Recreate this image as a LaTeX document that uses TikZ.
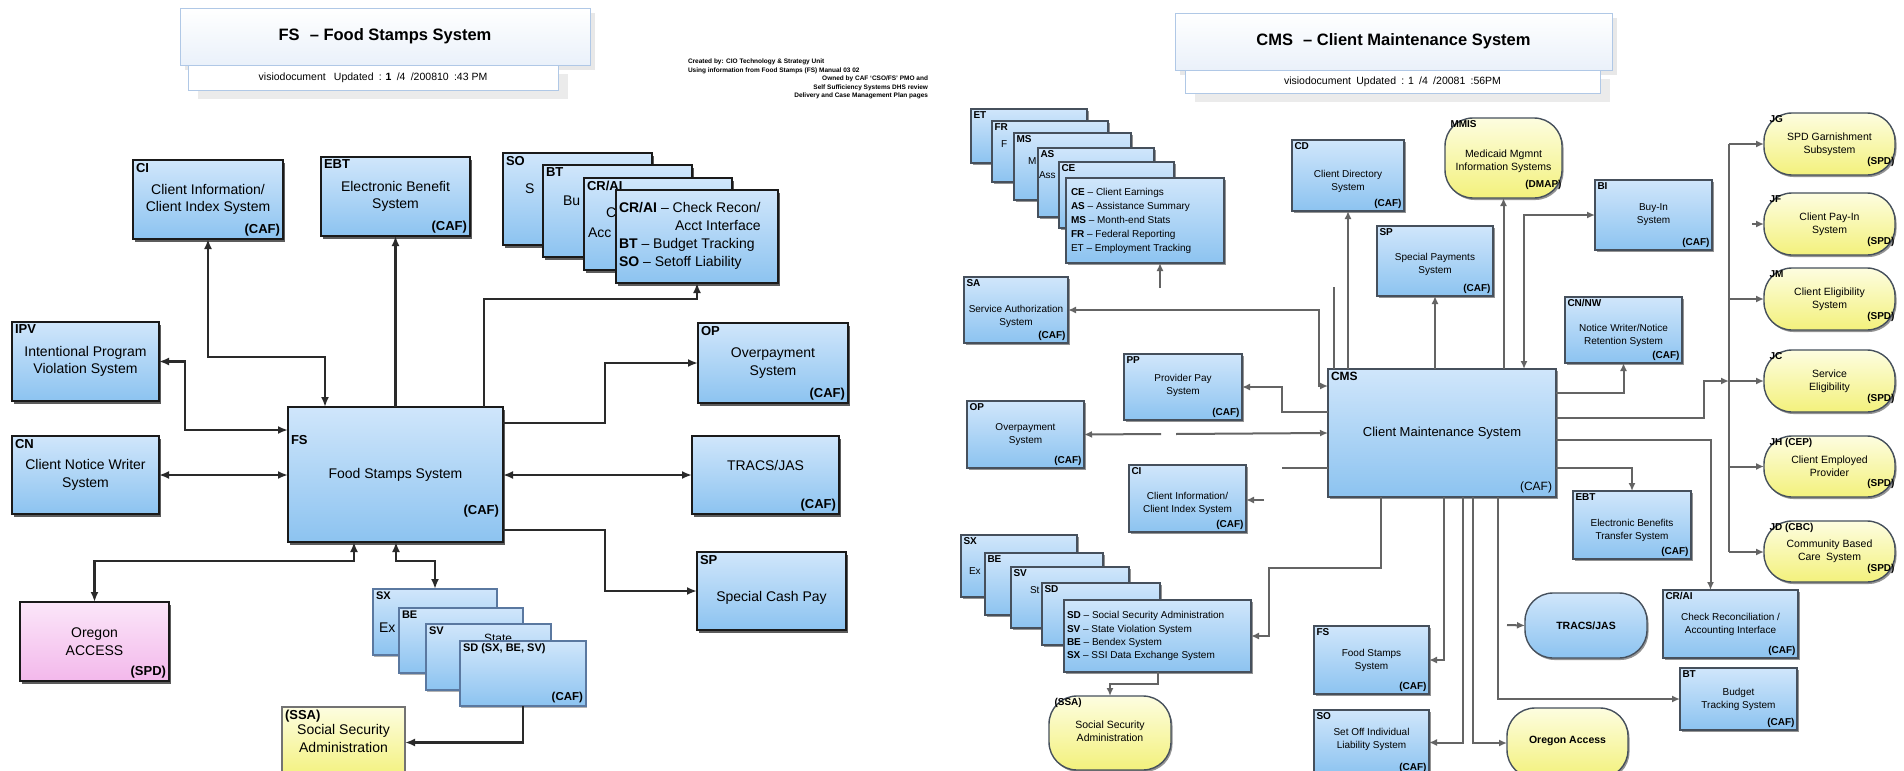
\documentclass[tikz,border=0pt]{standalone}
\usepackage{fontspec}
\setmainfont{Liberation Sans}
\usetikzlibrary{arrows.meta,shadows,calc}

\definecolor{boxtop}{RGB}{208,230,251}
\definecolor{boxbot}{RGB}{140,195,240}
\definecolor{edgedark}{RGB}{26,26,26}
\definecolor{edgegrey}{RGB}{70,80,92}
\definecolor{stackedge}{RGB}{90,120,160}
\definecolor{yeltop}{RGB}{253,253,224}
\definecolor{yelbot}{RGB}{243,241,124}
\definecolor{pinktop}{RGB}{251,230,249}
\definecolor{pinkbot}{RGB}{243,184,235}
\definecolor{wireleft}{RGB}{42,42,42}
\definecolor{wireright}{RGB}{100,100,100}
\definecolor{titleedge}{RGB}{176,200,230}
\definecolor{titlefill}{RGB}{234,241,250}

% a box given by its corners (x1,y1)-(x2,y2), y counted downwards
\newcommand{\boxat}[6]{%
  \node[#1, anchor=north west, minimum width={(#5-#3)*1pt},
        minimum height={(#6-#4)*1pt}] (#2) at (#3,#4) {};}
% code label, centred description and owner tag of a box
\newcommand{\boxtxt}[5][0]{%
  \node[boxlab, anchor=north west] (#2-lab) at (#2.north west) {#3};
  \node[boxbody] (#2-body) at ($(#2.center)+(0,#1)$) {#4};
  \node[boxtag, anchor=south east] (#2-tag) at (#2.south east) {#5};}
% the visible part of the text of a sheet lying under the next one
\newcommand{\pieceat}[4]{%
  \node[boxbody, anchor=west] (#1) at (#2,#3) {#4};}

\begin{document}
\begin{tikzpicture}[x=1pt, y=-1pt,
  every node/.style={inner sep=2pt, outer sep=0pt},
  lbox/.style={draw=edgedark, line width=2pt, top color=boxtop, bottom color=boxbot,
    drop shadow={shadow xshift=1.5pt, shadow yshift=-2.5pt, opacity=.85, fill=black!75}},
  lpink/.style={lbox, top color=pinktop, bottom color=pinkbot},
  lyellow/.style={draw=black!55, line width=1.5pt, top color=yeltop, bottom color=yelbot},
  lsheet/.style={draw=stackedge, line width=1.2pt, top color=boxtop, bottom color=boxbot,
    drop shadow={shadow xshift=1pt, shadow yshift=-1.5pt, opacity=.5, fill=black!60}},
  rbox/.style={draw=edgegrey, line width=1.4pt, top color=boxtop, bottom color=boxbot,
    drop shadow={shadow xshift=1.5pt, shadow yshift=-2pt, opacity=.6, fill=black!70}},
  roval/.style={rbox, rounded corners=28pt, top color=yeltop, bottom color=yelbot},
  rblueoval/.style={rbox, rounded corners=28pt},
  titlebox/.style={draw=titleedge, line width=1pt, top color=white, bottom color=titlefill,
    drop shadow={shadow xshift=5pt, shadow yshift=-5pt, opacity=1, fill=black!9}},
  subbox/.style={draw=titleedge, line width=1pt, fill=white,
    drop shadow={shadow xshift=10pt, shadow yshift=-9pt, opacity=1, fill=black!8}},
  titletxt/.style={font=\fontsize{16.5}{19}\selectfont\bfseries},
  subtxt/.style={font=\fontsize{10.5}{12}\selectfont},
  tinytxt/.style={font=\fontsize{6.5}{8.3}\selectfont\bfseries, inner sep=0pt},
  lc/.style={draw=wireleft, line width=2.2pt},
  rc/.style={draw=wireright, line width=2pt},
  lar/.style={-{Latex[length=10pt,width=8pt]}},
  lboth/.style={{Latex[length=10pt,width=8pt]}-{Latex[length=10pt,width=8pt]}},
  rar/.style={-{Latex[length=8pt,width=7pt]}},
  rboth/.style={{Latex[length=8pt,width=7pt]}-{Latex[length=8pt,width=7pt]}}]

\useasboundingbox (0,0) rectangle (1904,771);
\clip (0,0) rectangle (1904,771);
\fill[white] (0,0) rectangle (1904,771);

%================ Food Stamps system ================
\node[titlebox, anchor=north west, minimum width=410pt, minimum height=57pt] (ltitle) at (180,8) {};
\node[subbox, anchor=north west, minimum width=370pt, minimum height=25pt] (lsub) at (188,65) {};
\node[titletxt] (ltitle-t) at (ltitle.center) {FS\,\, -- Food Stamps System};
\node[subtxt] (lsub-t) at (lsub.center) {visiodocument\enspace\ Updated\enspace : \textbf{1}\enspace/4\enspace/200810\enspace :43 PM};

\node[tinytxt, anchor=north west, align=left] (credit1) at (688,59)
  {Created by: CIO Technology \& Strategy Unit\\Using information from Food Stamps (FS) Manual 03 02};
\node[tinytxt, anchor=north east, align=right] (credit2) at (928,76)
  {Owned by CAF `CSO/FS' PMO and\\Self Sufficiency Systems DHS review\\Delivery and Case Management Plan pages};

\begin{scope}[
  boxlab/.style={font=\fontsize{13}{15}\selectfont\bfseries, inner sep=3pt},
  boxbody/.style={font=\fontsize{14}{17.5}\selectfont, align=center},
  boxtag/.style={font=\fontsize{13}{15}\selectfont\bfseries, inner sep=3pt}]

\boxat{lbox}{ci}{133}{160}{283}{239}
\boxtxt{ci}{CI}{Client Information/\\Client Index System}{(CAF)}
\boxat{lbox}{ebt}{321}{157}{470}{236}
\boxtxt{ebt}{EBT}{Electronic Benefit\\System}{(CAF)}

% stacked sheets, back to front
\boxat{lbox}{so}{503}{153}{652}{245}
\node[boxlab, anchor=north west] (so-lab) at (so.north west) {SO};
\pieceat{so-p}{523}{189}{S}
\boxat{lbox}{bt}{543}{165}{692}{257}
\node[boxlab, anchor=north west] (bt-lab) at (bt.north west) {BT};
\pieceat{bt-p}{561}{201}{Bu}
\boxat{lbox}{cra}{584}{178}{732}{270}
\node[boxlab, anchor=north west] (cra-lab) at (cra.north west) {CR/AI};
\pieceat{cra-p1}{604}{213}{C}
\pieceat{cra-p2}{586}{233}{Acc}
\boxat{lbox}{sof}{616}{190}{778}{283}
\node[font=\fontsize{14}{18}\selectfont, anchor=west, inner sep=0pt] (sof-body) at (619,236)
  {\begin{tabular}{@{}l@{}}\textbf{CR/AI} -- Check Recon/\\ \multicolumn{1}{@{}r@{}}{Acct Interface}\\
   \textbf{BT} -- Budget Tracking\\ \textbf{SO} -- Setoff Liability\end{tabular}};

\boxat{lbox}{ipv}{12}{322}{159}{401}
\boxtxt{ipv}{IPV}{Intentional Program\\Violation System}{}
\boxat{lbox}{cn}{12}{436}{159}{514}
\boxtxt{cn}{CN}{Client Notice Writer\\System}{}

\boxat{lbox}{fs}{288}{407}{503}{542}
\node[boxlab, anchor=west] (fs-lab) at (288,440) {FS};
\node[boxbody] (fs-body) at (fs.center) {Food Stamps System};
\node[boxtag, anchor=east] (fs-tag) at (502,511) {(CAF)};

\boxat{lbox}{op}{698}{323}{848}{403}
\boxtxt{op}{OP}{Overpayment\\System}{(CAF)}
\boxat{lbox}{tracs}{692}{436}{839}{514}
\boxtxt[-10]{tracs}{}{TRACS/JAS}{(CAF)}
\boxat{lbox}{sp}{697}{552}{846}{630}
\boxtxt[7]{sp}{SP}{Special Cash Pay}{}

\boxat{lpink}{oregon}{20}{602}{169}{681}
\boxtxt{oregon}{}{Oregon\\ACCESS}{(SPD)}

\begin{scope}[boxlab/.append style={font=\fontsize{11}{13}\selectfont\bfseries},
              boxtag/.append style={font=\fontsize{11.5}{13}\selectfont\bfseries}]
\boxat{lsheet}{lsx}{373}{589}{497}{655}
\node[boxlab, anchor=north west] (lsx-lab) at (lsx.north west) {SX};
\pieceat{lsx-p}{377}{628}{Ex}
\boxat{lsheet}{lbe}{399}{608}{523}{673}
\node[boxlab, anchor=north west] (lbe-lab) at (lbe.north west) {BE};
\boxat{lsheet}{lsv}{426}{624}{551}{690}
\node[boxlab, anchor=north west] (lsv-lab) at (lsv.north west) {SV};
\begin{scope}
  \clip (480,624) rectangle (551,641);
  \node[font=\fontsize{12}{14}\selectfont, anchor=west, inner sep=0pt] (lsv-p) at (484,638) {State};
\end{scope}
\boxat{lsheet}{lsd}{460}{641}{586}{706}
\boxtxt{lsd}{SD (SX, BE, SV)}{}{(CAF)}
\end{scope}

\boxat{lyellow}{lssa}{282}{707}{405}{778}
\boxtxt[-4]{lssa}{(SSA)}{Social Security\\Administration}{}
\end{scope}

% connectors of the Food Stamps system
\draw[lc,lboth] (ci.south) -- ++(0,118) -| ([xshift=37pt]fs.north west);
\draw[lc,lar] (fs.north) -- (ebt.south);
\draw[lc,lar] ([xshift=-19pt]fs.north east) -- ++(0,-108) -| (sof.south);
\draw[lc,lboth] (ipv.east) -- ++(26,0) |- ([yshift=-23pt]fs.north west);
\draw[lc,lboth] (cn.east) -- (cn.east -| fs.west);
\draw[lc,lar] ([yshift=-16pt]fs.north east) -- ++(102,0) |- (op.west);
\draw[lc,lboth] (fs.east |- tracs.west) -- (tracs.west);
\draw[lc,lar] ([yshift=12pt]fs.south east) -- ++(102,0) |- (sp.west);
\draw[lc,lboth] ([xshift=66pt]fs.south west) -- ++(0,19) -| (oregon.north);
\draw[lc,lboth] ([xshift=108pt]fs.south west) -- ++(0,19) -| (lsx.north);
\draw[lc,lar] (lsd.south) |- (lssa.east);

%================ Client Maintenance system ================
\node[titlebox, anchor=north west, minimum width=437pt, minimum height=57pt] (rtitle) at (1175,13) {};
\node[subbox, anchor=north west, minimum width=415pt, minimum height=23pt] (rsub) at (1185,70) {};
\node[titletxt] (rtitle-t) at (rtitle.center) {CMS\,\, -- Client Maintenance System};
\node[subtxt] (rsub-t) at (rsub.center) {visiodocument\enspace Updated\enspace : 1\enspace /4\enspace /20081\enspace :56PM};

\begin{scope}[
  boxlab/.style={font=\fontsize{10}{12}\selectfont\bfseries, inner sep=2.5pt},
  boxbody/.style={font=\fontsize{10}{13}\selectfont, align=center},
  boxtag/.style={font=\fontsize{10}{12}\selectfont\bfseries, inner sep=2.5pt}]

% report sheets, back to front
\boxat{rbox}{ret}{971}{109}{1087}{163}
\node[boxlab, anchor=north west] (ret-lab) at (ret.north west) {ET};
\boxat{rbox}{rfr}{992}{121}{1108}{182}
\node[boxlab, anchor=north west] (rfr-lab) at (rfr.north west) {FR};
\pieceat{rfr-p}{999}{144}{F}
\boxat{rbox}{rms}{1014}{133}{1131}{200}
\node[boxlab, anchor=north west] (rms-lab) at (rms.north west) {MS};
\pieceat{rms-p}{1026}{161}{M}
\boxat{rbox}{ras}{1038}{148}{1154}{217}
\node[boxlab, anchor=north west] (ras-lab) at (ras.north west) {AS};
\pieceat{ras-p}{1037}{175}{Ass}
\boxat{rbox}{rce}{1059}{162}{1174}{228}
\node[boxlab, anchor=north west] (rce-lab) at (rce.north west) {CE};
\boxat{rbox}{etf}{1066}{178}{1224}{263}
\node[font=\fontsize{10}{14}\selectfont, anchor=west, inner sep=0pt] (etf-body) at (1071,221)
  {\begin{tabular}{@{}l@{}}\textbf{CE} -- Client Earnings\\ \textbf{AS} -- Assistance Summary\\
   \textbf{MS} -- Month-end Stats\\ \textbf{FR} -- Federal Reporting\\ ET -- Employment Tracking\end{tabular}};

\boxat{rbox}{sa}{964}{277}{1068}{343}
\boxtxt[6]{sa}{SA}{Service Authorization\\System}{(CAF)}
\boxat{rbox}{cd}{1292}{140}{1404}{211}
\boxtxt[6]{cd}{CD}{Client Directory\\System}{(CAF)}
\boxat{rbox}{spr}{1377}{226}{1493}{296}
\boxtxt[3]{spr}{SP}{Special Payments\\System}{(CAF)}
\boxat{rbox}{bi}{1595}{180}{1712}{250}
\boxtxt{bi}{BI}{Buy-In\\System}{(CAF)}
\boxat{rbox}{cnnw}{1565}{297}{1682}{363}
\boxtxt[5]{cnnw}{CN/NW}{Notice Writer/Notice\\Retention System}{(CAF)}
\boxat{rbox}{pp}{1124}{354}{1242}{420}
\boxtxt[-2]{pp}{PP}{Provider Pay\\System}{(CAF)}
\boxat{rbox}{rop}{967}{401}{1084}{468}
\boxtxt{rop}{OP}{Overpayment\\System}{(CAF)}
\boxat{rbox}{rci}{1129}{465}{1246}{532}
\boxtxt[5]{rci}{CI}{Client Information/\\Client Index System}{(CAF)}

\boxat{rbox}{cms}{1328}{369}{1556}{497}
\node[font=\fontsize{12}{14}\selectfont\bfseries, anchor=north west, inner sep=3pt] (cms-lab) at (cms.north west) {CMS};
\node[font=\fontsize{13}{15}\selectfont] (cms-body) at (cms.center) {Client Maintenance System};
\node[font=\fontsize{12}{14}\selectfont, anchor=south east, inner sep=4pt] (cms-tag) at (cms.south east) {(CAF)};

\boxat{rbox}{rebt}{1573}{491}{1691}{559}
\boxtxt[5]{rebt}{EBT}{Electronic Benefits\\Transfer System}{(CAF)}
\boxat{rbox}{crai}{1663}{590}{1798}{658}
\boxtxt{crai}{CR/AI}{Check Reconciliation /\\Accounting Interface}{(CAF)}
\boxat{rbox}{rbt}{1680}{668}{1797}{730}
\boxtxt{rbt}{BT}{Budget\\Tracking System}{(CAF)}
\boxat{rbox}{rfs}{1314}{626}{1429}{694}
\boxtxt{rfs}{FS}{Food Stamps\\System}{(CAF)}
\boxat{rbox}{rso}{1314}{710}{1429}{775}
\boxtxt[-3]{rso}{SO}{Set Off Individual\\Liability System}{(CAF)}

% data exchange sheets, back to front
\boxat{rbox}{rsx}{961}{535}{1077}{597}
\node[boxlab, anchor=north west] (rsx-lab) at (rsx.north west) {SX};
\pieceat{rsx-p}{967}{571}{Ex}
\boxat{rbox}{rbe}{985}{553}{1103}{615}
\node[boxlab, anchor=north west] (rbe-lab) at (rbe.north west) {BE};
\boxat{rbox}{rsv}{1011}{567}{1129}{628}
\node[boxlab, anchor=north west] (rsv-lab) at (rsv.north west) {SV};
\pieceat{rsv-p}{1028}{590}{St}
\boxat{rbox}{rsd}{1042}{583}{1160}{645}
\node[boxlab, anchor=north west] (rsd-lab) at (rsd.north west) {SD};
\boxat{rbox}{rsdf}{1064}{600}{1251}{672}
\node[font=\fontsize{10}{13.3}\selectfont, anchor=west, inner sep=0pt] (rsdf-body) at (1067,636)
  {\begin{tabular}{@{}l@{}}\textbf{SD} -- Social Security Administration\\ \textbf{SV} -- State Violation System\\
   \textbf{BE} -- Bendex System\\ \textbf{SX} -- SSI Data Exchange System\end{tabular}};

% rounded partner systems
\begin{scope}[boxlab/.append style={xshift=3pt},
              boxbody/.append style={font=\fontsize{10.5}{13}\selectfont},
              boxtag/.append style={xshift=2pt, yshift=6pt}]
\boxat{roval}{mmis}{1445}{118}{1562}{198}
\boxtxt[3]{mmis}{MMIS}{Medicaid Mgmnt\\Information Systems}{(DMAP)}
\boxat{roval}{jg}{1764}{113}{1895}{175}
\boxtxt{jg}{JG}{SPD Garnishment\\Subsystem}{(SPD)}
\boxat{roval}{jf}{1764}{193}{1895}{255}
\boxtxt{jf}{JF}{Client Pay-In\\System}{(SPD)}
\boxat{roval}{jm}{1764}{268}{1895}{330}
\boxtxt{jm}{JM}{Client Eligibility\\System}{(SPD)}
\boxat{roval}{jc}{1764}{350}{1895}{412}
\boxtxt{jc}{JC}{Service\\Eligibility}{(SPD)}
\boxat{roval}{jh}{1764}{436}{1895}{497}
\boxtxt{jh}{JH (CEP)}{Client Employed\\Provider}{(SPD)}
\boxat{roval}{jd}{1764}{521}{1895}{582}
\boxtxt{jd}{JD (CBC)}{Community Based\\Care\enspace System}{(SPD)}
\boxat{roval}{rssa}{1049}{696}{1171}{770}
\boxtxt[-2]{rssa}{(SSA)}{Social Security\\Administration}{}
\boxat{rblueoval}{rtracs}{1525}{593}{1647}{658}
\node[font=\fontsize{10.5}{12}\selectfont\bfseries] (rtracs-body) at (rtracs.center) {TRACS/JAS};
\boxat{roval}{roa}{1507}{708}{1628}{778}
\node[font=\fontsize{10.5}{12}\selectfont\bfseries] (roa-body) at ($(roa.center)+(0,-2)$) {Oregon Access};
\end{scope}
\end{scope}

% free ends and junction points
\coordinate (etfree) at (1160,288);
\coordinate (opgapL) at (1161,434);
\coordinate (opgapR) at (1176,434);
\coordinate (cifree) at (1264,500);
\coordinate (trfree) at (1507,625);
\coordinate (jffree) at (1752,224);
\coordinate (bustop) at (1729,144);
\coordinate (busbot) at (1729,552);

% connectors of the Client Maintenance system
\draw[rc,rar] (etfree) -- (etfree |- etf.south);
\draw[rc,rboth] ([yshift=-17pt]cms.north west) -- ++(-9,0) |- (sa.east);
\draw[rc] ([xshift=6pt]cms.north west) -- ++(0,-82);
\draw[rc,rar] (cms.north -| cd.south) -- (cd.south);
\draw[rc,rar] (cms.north -| spr.south) -- (spr.south);
\draw[rc,rar] (cms.north -| mmis.south) -- (mmis.south);
\draw[rc,rboth] ([xshift=-32pt]cms.north east) |- (bi.west);
\draw[rc,rar] ([yshift=-24pt]cms.north east) -| (cnnw.south);
\draw[rc,rar] ([yshift=-49pt]cms.north east) -- ++(148,0) |- (bustop |- jc.west);
\draw[rc] (bustop) -- (busbot);
\draw[rc,rar] (bustop) -- (jg.west);
\draw[rc,rar] (jffree) -- (jf.west);
\draw[rc,rar] (bustop |- jm.west) -- (jm.west);
\draw[rc,rar] (bustop |- jc.west) -- (jc.west);
\draw[rc,rar] (bustop |- jh.west) -- (jh.west);
\draw[rc,rar] (busbot) -- (busbot -| jd.west);
\draw[rc,rar] ([yshift=-71pt]cms.north east) -| ([xshift=-20pt]crai.north);
\draw[rc,rar] ([yshift=-99pt]cms.north east) -| (rebt.north);
\draw[rc,rar] ([yshift=-43pt]cms.north west) -- ++(-46,0) |- (pp.east);
\draw[rc,rar] (opgapL) -- (rop.east);
\draw[rc,rar] (opgapR) -- (cms.west);
\draw[rc] ([yshift=-99pt]cms.north west) -- ++(-46,0);
\draw[rc,rar] (cifree) -- (cifree -| rci.east);
\draw[rc,rar] ([xshift=53pt]cms.south west) -- ++(0,71) -- ++(-112,0) |- (rsdf.east);
\draw[rc,rar] ([xshift=116pt]cms.south west) |- (rfs.east);
\draw[rc,rar] ([xshift=135pt]cms.south west) |- (rso.east);
\draw[rc,rar] ([xshift=145pt]cms.south west) |- (roa.west);
\draw[rc,rar] ([xshift=170pt]cms.south west) |- (rbt.west);
\draw[rc,rar] (rsdf.south) -- ++(0,12) -| (rssa.north);
\draw[rc,rar] (trfree) -- (rtracs.west);

\end{tikzpicture}
\end{document}
